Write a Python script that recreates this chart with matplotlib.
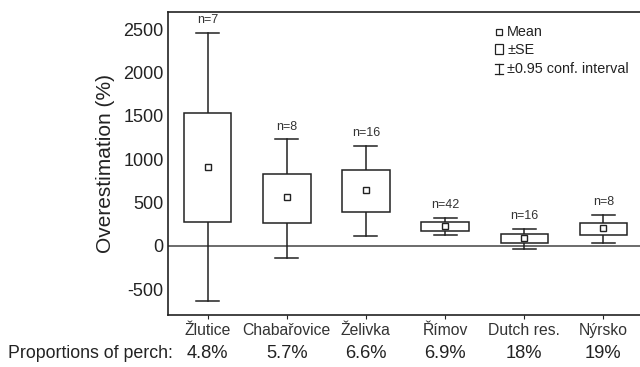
import numpy as np
import matplotlib.pyplot as plt
from matplotlib.patches import Rectangle

plt.rcParams['font.family'] = ['Liberation Sans', 'DejaVu Sans']
plt.rcParams['axes.unicode_minus'] = False

# Données
lacs = ['Žlutice', 'Chabařovice', 'Želivka', 'Římov', 'Dutch res.', 'Nýrsko']
effectifs = ['n=7', 'n=8', 'n=16', 'n=42', 'n=16', 'n=8']
proportions = ['4.8%', '5.7%', '6.6%', '6.9%', '18%', '19%']
moyenne = [912, 559, 642, 231, 85, 208]
se_haut = [1536, 824, 874, 270, 131, 265]
se_bas = [270, 258, 385, 166, 28, 123]
ic_haut = [2456, 1228, 1151, 316, 193, 358]
ic_bas = [-638, -142, 115, 123, -41, 31]

fig = plt.figure(figsize=(6.4, 3.67), dpi=100)
ax = fig.add_axes([168 / 640, 52 / 367, 475 / 640, 303 / 367])

x = np.arange(1, len(lacs) + 1)
largeur = 0.6
cap = 0.29

ax.axhline(0, color='#444444', lw=1.1, zorder=1)

for xi, m, sh, sb, ih, ib, n in zip(x, moyenne, se_haut, se_bas, ic_haut, ic_bas, effectifs):
    # moustaches (intervalle de confiance)
    ax.plot([xi, xi], [sh, ih], color='#222222', lw=1.1, zorder=2)
    ax.plot([xi, xi], [ib, sb], color='#222222', lw=1.1, zorder=2)
    ax.plot([xi - cap / 2, xi + cap / 2], [ih, ih], color='#222222', lw=1.1, zorder=2)
    ax.plot([xi - cap / 2, xi + cap / 2], [ib, ib], color='#222222', lw=1.1, zorder=2)
    # boîte (±SE)
    ax.add_patch(Rectangle((xi - largeur / 2, sb), largeur, sh - sb,
                           facecolor='white', edgecolor='#222222', lw=1.1, zorder=3))
    # moyenne
    ax.plot(xi, m, marker='s', ms=4.5, mfc='white', mec='#222222', mew=1.0, zorder=4)
    ax.text(xi, ih + 80, n, ha='center', va='bottom', fontsize=9, color='#333333')

ax.set_xlim(0.5, 6.5)
ax.set_ylim(-800, 2700)
ax.set_yticks([-500, 0, 500, 1000, 1500, 2000, 2500])
ax.set_xticks(x)
ax.set_xticklabels(lacs, fontsize=11.3, color='#333333')
ax.tick_params(axis='y', labelsize=13, length=0, pad=3, colors='#222222')
ax.tick_params(axis='x', length=3, pad=3, color='#222222')
ax.set_ylabel('Overestimation (%)', fontsize=15, color='#222222', labelpad=6)
for s in ax.spines.values():
    s.set_linewidth(1.2)
    s.set_color('#222222')

# Légende faite à la main
ax.plot(0.697, 0.934, transform=ax.transAxes, marker='s', ms=4, mfc='white',
        mec='#222222', mew=0.9, clip_on=False)
ax.add_patch(Rectangle((0.689, 0.86), 0.016, 0.033, transform=ax.transAxes,
                       facecolor='white', edgecolor='#222222', lw=0.9))
ax.plot([0.697, 0.697], [0.795, 0.83], transform=ax.transAxes, color='#222222', lw=0.9)
ax.plot([0.689, 0.705], [0.83, 0.83], transform=ax.transAxes, color='#222222', lw=0.9)
ax.plot([0.689, 0.705], [0.795, 0.795], transform=ax.transAxes, color='#222222', lw=0.9)
ax.text(0.714, 0.934, 'Mean', transform=ax.transAxes, va='center', fontsize=10.4, color='#222222')
ax.text(0.714, 0.875, '±SE', transform=ax.transAxes, va='center', fontsize=10.4, color='#222222')
ax.text(0.714, 0.812, '±0.95 conf. interval', transform=ax.transAxes, va='center',
        fontsize=10.4, color='#222222')

# Ligne des proportions de perche
fig.text(8 / 640, 1 - 353 / 367, 'Proportions of perch:', fontsize=12.8, va='center', color='#222222')
for xi, p in zip(x, proportions):
    px = ax.transData.transform((xi, 0))[0] / fig.bbox.width
    fig.text(px, 1 - 353 / 367, p, fontsize=13.2, ha='center', va='center', color='#222222')

fig.savefig('out.png', dpi=100)
